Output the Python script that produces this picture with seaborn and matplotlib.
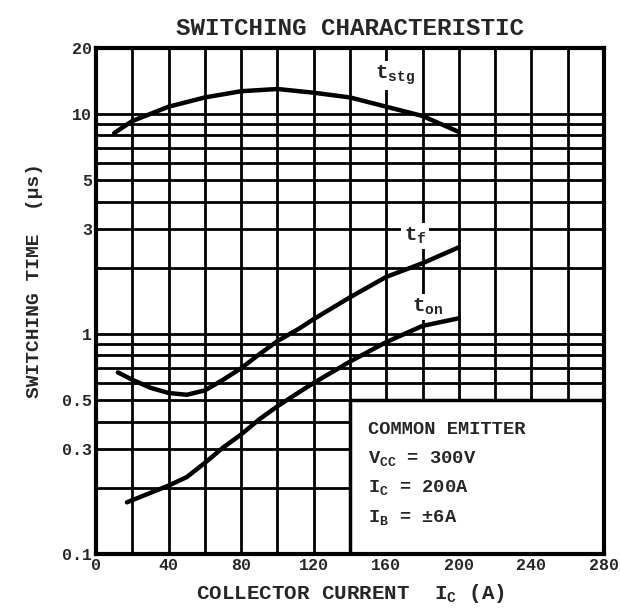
import matplotlib
matplotlib.use('agg')
import matplotlib.pyplot as plt
import matplotlib.ticker as mticker
from matplotlib.patches import Rectangle
import pandas as pd
import seaborn as sns

# values (collector current in A, time in us)
stg_x = [10, 20, 40, 60, 80, 100, 120, 140, 160, 180, 200]
stg_y = [8.2, 9.3, 10.8, 11.9, 12.7, 13.0, 12.5, 11.9, 10.8, 9.8, 8.3]

tf_x = [12, 20, 30, 40, 50, 60, 70, 80, 90, 100, 112, 120, 140, 160, 180, 200]
tf_y = [0.67, 0.62, 0.57, 0.54, 0.53, 0.555, 0.62, 0.70, 0.81, 0.93, 1.06, 1.17, 1.47, 1.82, 2.1, 2.48]

ton_x = [17, 30, 40, 50, 60, 70, 80, 90, 100, 112, 120, 140, 160, 180, 200]
ton_y = [0.172, 0.19, 0.205, 0.224, 0.26, 0.305, 0.35, 0.41, 0.47, 0.545, 0.60, 0.75, 0.92, 1.09, 1.18]

x_ticks = [0, 40, 80, 120, 160, 200, 240, 280]
x_grid = list(range(0, 281, 20))
y_ticks = [0.1, 0.3, 0.5, 1, 3, 5, 10, 20]
y_tick_labels = ['0.1', '0.3', '0.5', '1', '3', '5', '10', '20']
y_grid = [0.2, 0.3, 0.4, 0.5, 0.6, 0.7, 0.8, 0.9, 1, 2, 3, 4, 5, 6, 7, 8, 9, 10]

cond_lines = ['COMMON EMITTER', r'V$_{CC}$ = 300V', r'I$_{C}$ = 200A', r'I$_{B}$ = ±6A']

df = pd.concat([
    pd.DataFrame({'Ic': stg_x, 't': stg_y, 'curve': 'tstg'}),
    pd.DataFrame({'Ic': tf_x, 't': tf_y, 'curve': 'tf'}),
    pd.DataFrame({'Ic': ton_x, 't': ton_y, 'curve': 'ton'}),
])

sns.set_style('white')
plt.rcParams['font.family'] = ['Liberation Mono', 'DejaVu Sans']
plt.rcParams['font.weight'] = 'bold'
plt.rcParams['mathtext.default'] = 'regular'

fig = plt.figure(figsize=(6.2, 6.13), dpi=100)
ax = fig.add_axes([0.155, 0.096, 0.819, 0.826])

sns.lineplot(data=df, x='Ic', y='t', units='curve', estimator=None, color='black',
             lw=3.2, sort=False, ax=ax, zorder=3)

ax.set_yscale('log')
ax.set_xlim(0, 280)
ax.set_ylim(0.1, 20)

# grid lines from fixed locators; labels only on the major ones
ax.xaxis.set_major_locator(mticker.FixedLocator(x_ticks))
ax.xaxis.set_minor_locator(mticker.FixedLocator([v for v in x_grid if v not in x_ticks]))
ax.yaxis.set_major_locator(mticker.FixedLocator(y_ticks))
ax.yaxis.set_major_formatter(mticker.FixedFormatter(y_tick_labels))
ax.yaxis.set_minor_locator(mticker.FixedLocator([v for v in y_grid if v not in y_ticks]))
ax.yaxis.set_minor_formatter(mticker.NullFormatter())
ax.tick_params(which='both', length=0, labelsize=12, pad=3)
ax.set_axisbelow(True)
ax.grid(True, which='both', color='black', lw=2)
ax.grid(False, which='major', axis='y')
ax.yaxis.grid(True, which='minor', color='black', lw=2)
for v in [0.3, 0.5, 1, 3, 5, 10]:
    ax.axhline(v, color='black', lw=2, zorder=0.5)
for s in ax.spines.values():
    s.set_linewidth(3)
    s.set_color('black')

# condition box in the lower right
box = Rectangle((140, 0.1), 140, 0.4, facecolor='white', edgecolor='black', lw=2.5, zorder=1)
ax.add_patch(box)
for i, line in enumerate(cond_lines):
    ax.text(150, 0.37 / (1.36 ** i), line, fontsize=13.5, fontweight='bold', va='center', zorder=4)

lbl_bg = dict(facecolor='white', edgecolor='none', pad=2)
ax.text(165, 15.0, r'$t_{stg}$', fontsize=15, ha='center', va='center', bbox=lbl_bg, zorder=2)
ax.text(176, 2.8, r'$t_{f}$', fontsize=15, ha='center', va='center', bbox=lbl_bg, zorder=2)
ax.text(183, 1.33, r'$t_{on}$', fontsize=15, ha='center', va='center', bbox=lbl_bg, zorder=2)

ax.set_title('SWITCHING CHARACTERISTIC', fontsize=17.5, fontweight='bold', pad=9)
ax.set_xlabel(r'COLLECTOR CURRENT  I$_{C}$ (A)', fontsize=15, fontweight='bold', labelpad=6)
ax.set_ylabel('SWITCHING TIME  (μs)', fontsize=14, fontweight='bold')
ax.yaxis.set_label_coords(-0.105, 0.54)

fig.savefig('out.png', dpi=100)
